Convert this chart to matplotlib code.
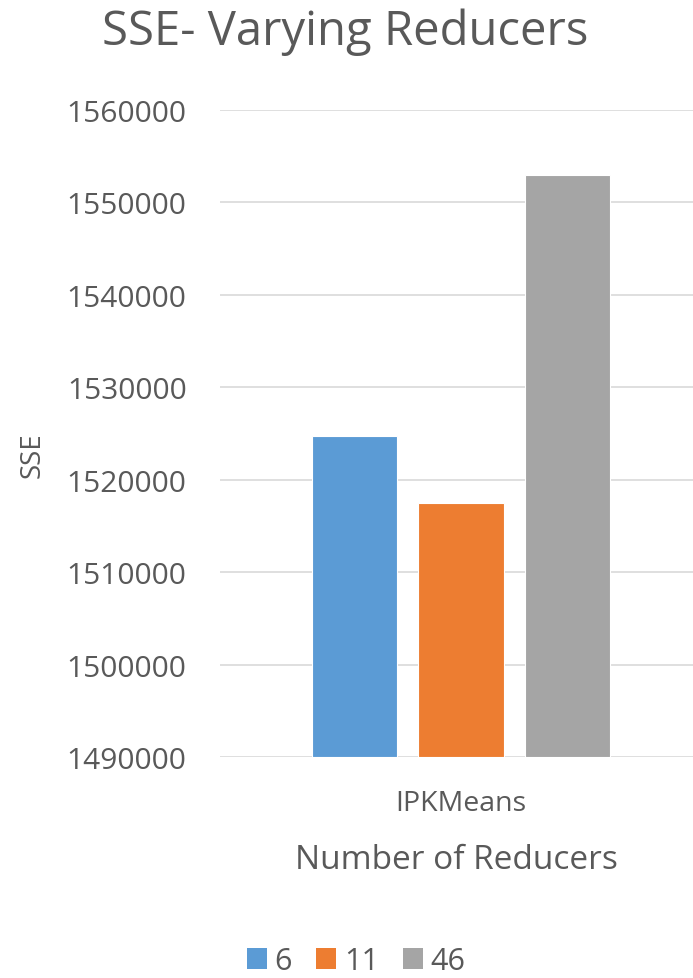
import matplotlib.pyplot as plt
from matplotlib.patches import Patch

# SSE of IPKMeans for different reducer counts
category = "IPKMeans"
reducers = ["6", "11", "46"]
sse = [1524700, 1517500, 1553000]
colors = ["#5B9BD5", "#ED7D31", "#A5A5A5"]
yticks = [1490000, 1500000, 1510000, 1520000, 1530000, 1540000, 1550000, 1560000]

TEXT = "#595959"
plt.rcParams['font.family'] = ['Open Sans', 'DejaVu Sans']

fig = plt.figure(figsize=(6.93, 9.79), dpi=100)
ax = fig.add_axes([0.3175, 0.2257, 0.6825, 0.6609])

width = 0.2
step = 0.25
for i, (lab, val, col) in enumerate(zip(reducers, sse, colors)):
    x = (i - 1) * step
    ax.bar(x, val - yticks[0], bottom=yticks[0], width=width, color=col,
           edgecolor="white", linewidth=0.8, label=lab, zorder=3)

ax.set_xlim(-0.566, 0.545)
ax.set_ylim(yticks[0], yticks[-1])
ax.set_yticks(yticks)
ax.set_yticklabels([str(t) for t in yticks])
ax.set_xticks([0])
ax.set_xticklabels([category])
ax.tick_params(axis='y', length=0, pad=24, labelsize=21.5, labelcolor=TEXT)
ax.tick_params(axis='x', length=0, pad=23, labelsize=20.5, labelcolor=TEXT)
ax.grid(axis='y', color="#D9D9D9", linewidth=1.2, zorder=0)
for s in ax.spines.values():
    s.set_visible(False)

ax.set_xlabel("Number of Reducers", fontsize=24, color=TEXT, labelpad=19)
ax.set_ylabel("SSE", fontsize=20, color=TEXT)
ax.yaxis.set_label_coords(-0.366, 0.468)

fig.text(0.498, 0.967, "SSE- Varying Reducers", ha='center', va='center',
         fontsize=34, color=TEXT)

handles = [Patch(facecolor=c, edgecolor='none') for c in colors]
fig.legend(handles, reducers, loc='center', bbox_to_anchor=(0.514, 0.017),
           ncol=3, frameon=False, fontsize=22, labelcolor=TEXT,
           handlelength=0.65, handleheight=0.65, handletextpad=0.25,
           columnspacing=0.8)

fig.savefig("out.png", dpi=100)
